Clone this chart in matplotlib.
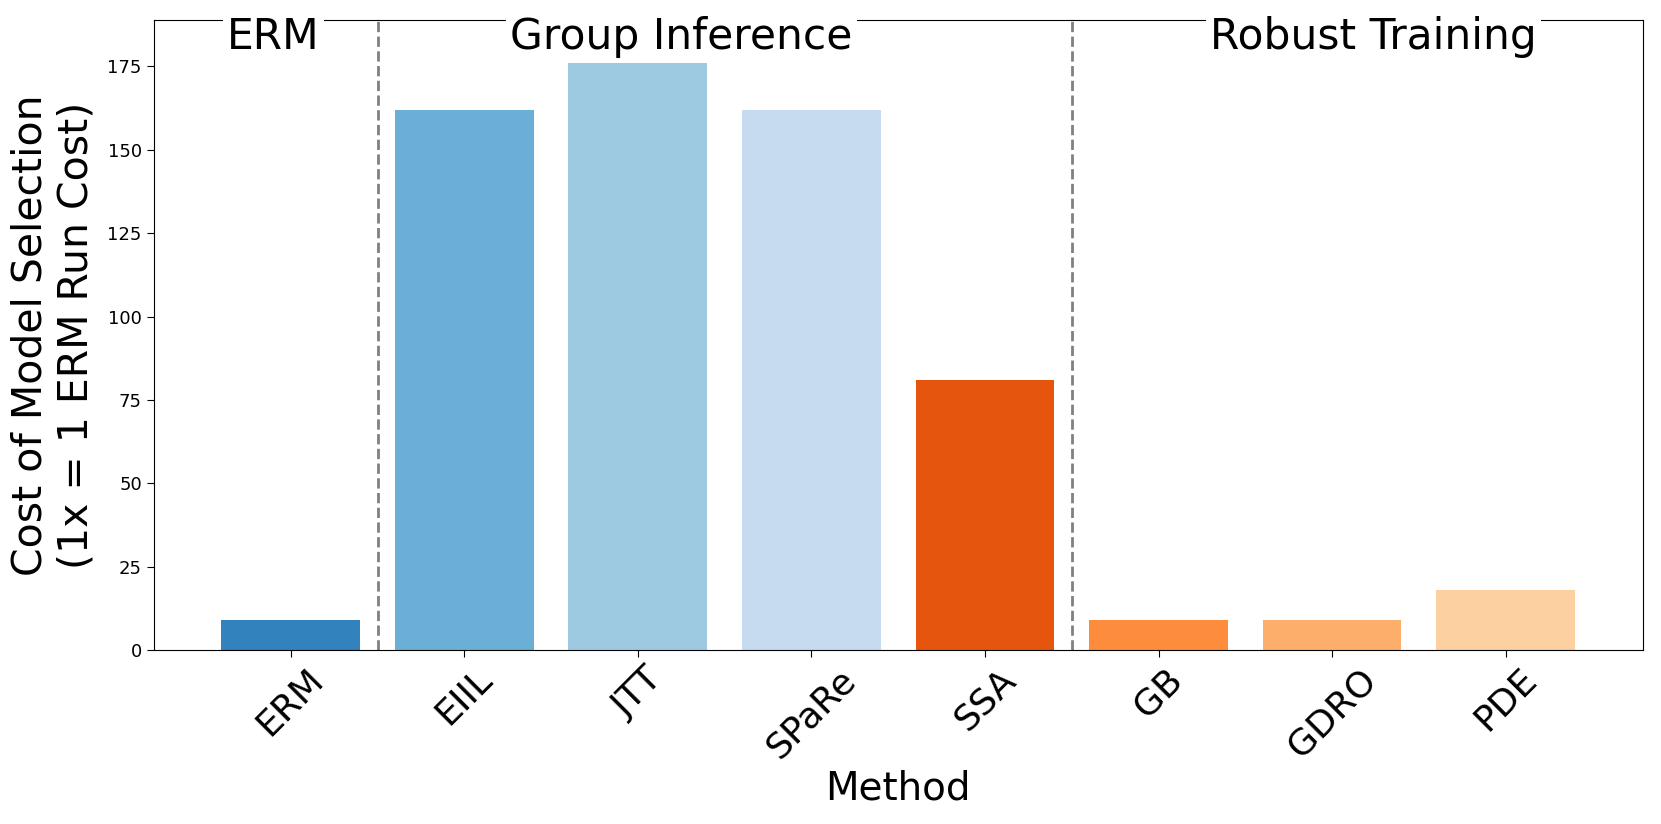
import matplotlib
matplotlib.use("Agg")
import matplotlib.pyplot as plt

methods = ["ERM", "EIIL", "JTT", "SPaRe", "SSA", "GB", "GDRO", "PDE"]
costs = [9, 162, 176, 162, 81, 9, 9, 18]
colors = ["#3182bd", "#6baed6", "#9ecae1", "#c6dbef",
          "#e6550d", "#fd8d3c", "#fdae6b", "#fdd0a2"]
group_names = ["ERM", "Group Inference", "Robust Training"]
group_centers = [-0.1, 2.25, 6.24]
separators = [0.5, 4.5]

fig = plt.figure(figsize=(16.61, 8.24), dpi=100)
ax = fig.add_axes([0.0925, 0.211, 0.8965, 0.765])
x = list(range(len(methods)))
ax.bar(x, costs, color=colors, width=0.8)
for s in separators:
    ax.axvline(s, color="gray", linestyle="--", linewidth=2)
ax.set_ylim(0, 189)
ax.set_xticks(x)
ax.set_xticklabels(methods, rotation=45, fontsize=26)
ax.tick_params(axis="y", labelsize=13, length=5)
ax.tick_params(axis="x", length=5)
ax.set_xlabel("Method", fontsize=28)
ax.set_ylabel("Cost of Model Selection\n(1x = 1 ERM Run Cost)", fontsize=29.5, labelpad=8)
for name, cx in zip(group_names, group_centers):
    ax.text(cx, 0.953, name, transform=ax.get_xaxis_transform(), ha="center",
            va="baseline", fontsize=30.5, zorder=5, clip_on=False,
            bbox=dict(facecolor="white", edgecolor="none", pad=3))
fig.savefig("out.png", dpi=100)
